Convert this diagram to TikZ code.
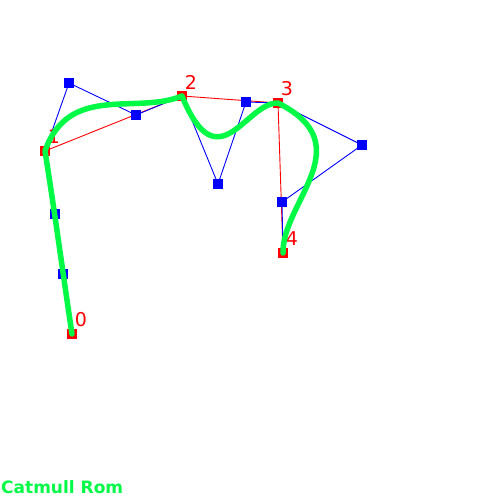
\documentclass[tikz,border=0pt]{standalone}
\usepackage{fontspec}
\setmainfont{DejaVu Sans}
\usepackage{tikz}
\usetikzlibrary{positioning, calc}
\definecolor{curvered}{RGB}{255, 0, 0}
\definecolor{ctrlblue}{RGB}{0, 0, 255}
\definecolor{splinegreen}{RGB}{0, 250, 70}

\tikzset{
  knot/.style={draw=none, minimum size=10pt, inner sep=0pt},
  handle/.style={draw=none, minimum size=10pt, inner sep=0pt},
  knotlabel/.style={text=curvered, font=\fontsize{19}{19}\selectfont, inner sep=0pt},
  chord/.style={curvered, line width=0.9pt},
  hull/.style={ctrlblue, line width=0.9pt},
  spline/.style={splinegreen, line width=5.5pt, line cap=round, line join=round}
}

\begin{document}
\begin{tikzpicture}[x=1pt, y=-1pt]
            \useasboundingbox (0,0) rectangle (484,500);

            % Punti della curva
            \node[knot] (p0) at (72,334) {};
            \node[knot] (p1) at (45,151) {};
            \node[knot] (p2) at (182,96) {};
            \node[knot] (p3) at (278,103) {};
            \node[knot] (p4) at (283,253) {};

            % Punti di controllo
            \node[handle] (c0a) at (63,274) {};
            \node[handle] (c0b) at (55,214) {};
            \node[handle] (c1a) at (69,83) {};
            \node[handle] (c1b) at (136,115) {};
            \node[handle] (c2a) at (218,184) {};
            \node[handle] (c2b) at (246,102) {};
            \node[handle] (c3a) at (362,145) {};
            \node[handle] (c3b) at (282,202) {};

            \draw[chord] (p0.center) -- (p1.center) -- (p2.center) -- (p3.center) -- (p4.center);
            \draw[hull] (p0.center) -- (c0a.center) -- (c0b.center) -- (p1.center);
            \draw[hull] (p1.center) -- (c1a.center) -- (c1b.center) -- (p2.center);
            \draw[hull] (p2.center) -- (c2a.center) -- (c2b.center) -- (p3.center);
            \draw[hull] (p3.center) -- (c3a.center) -- (c3b.center) -- (p4.center);

            % Quadratini sopra le linee
            \foreach \k in {p0, p1, p2, p3, p4}
                \fill[curvered] (\k.south west) rectangle (\k.north east);
            \foreach \k in {c0a, c0b, c1a, c1b, c2a, c2b, c3a, c3b}
                \fill[ctrlblue] (\k.south west) rectangle (\k.north east);

            \foreach \k in {0,...,4}
                \node[knotlabel] (l\k) at ($(p\k)+(9,-14)$) {\k};

            % Curva
            \draw[spline] (p0.center) .. controls (c0a.center) and (c0b.center) .. (p1.center)
                .. controls (c1a.center) and (c1b.center) .. (p2.center)
                .. controls (c2a.center) and (c2b.center) .. (p3.center)
                .. controls (c3a.center) and (c3b.center) .. (p4.center);

            \node[anchor=base west, inner sep=0pt, text=splinegreen,
                  font=\bfseries\fontsize{17}{17}\selectfont] (title) at (1,493.5) {Catmull Rom};
        \end{tikzpicture}
\end{document}
